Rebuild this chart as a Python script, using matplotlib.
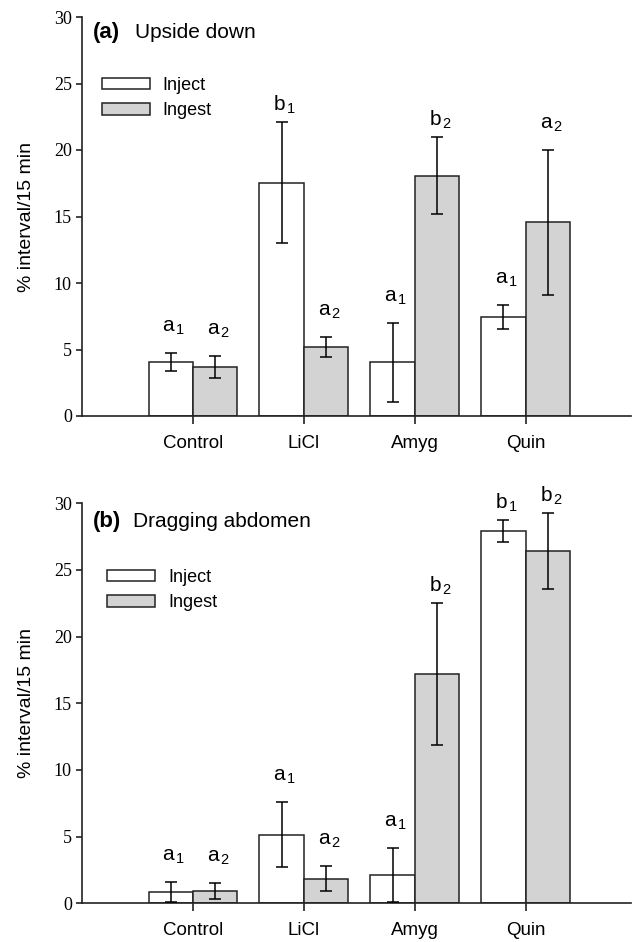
import matplotlib
matplotlib.use("Agg")
import matplotlib.pyplot as plt
import numpy as np

plt.rcParams['font.family'] = ['Liberation Sans', 'DejaVu Sans']
plt.rcParams['mathtext.fontset'] = 'custom'
plt.rcParams['mathtext.rm'] = 'Liberation Sans'
plt.rcParams['mathtext.it'] = 'Liberation Sans:italic'

categories = ['Control', 'LiCl', 'Amyg', 'Quin']
series_names = ['Inject', 'Ingest']

# Panel (a) Upside down
a_inject = [4.07, 17.55, 4.03, 7.45]
a_inject_err = [0.65, 4.55, 2.98, 0.90]
a_ingest = [3.65, 5.18, 18.07, 14.55]
a_ingest_err = [0.83, 0.78, 2.90, 5.47]
a_inject_labels = ['a1', 'b1', 'a1', 'a1']
a_ingest_labels = ['a2', 'a2', 'b2', 'a2']

# Panel (b) Dragging abdomen
b_inject = [0.83, 5.16, 2.14, 27.93]
b_inject_err = [0.76, 2.44, 2.04, 0.84]
b_ingest = [0.93, 1.84, 17.20, 26.45]
b_ingest_err = [0.58, 0.95, 5.30, 2.85]
b_inject_labels = ['a1', 'a1', 'a1', 'b1']
b_ingest_labels = ['a2', 'a2', 'b2', 'b2']

yticks = [0, 5, 10, 15, 20, 25, 30]

W, H = 637, 942
fig = plt.figure(figsize=(W / 100, H / 100), dpi=100)

colors = ['white', '#d3d3d3']
bw = 0.4
label_gap = {'a': 1.6, 'b': 0.85}


def fmt(lbl):
    return r'$\mathrm{%s}_{\,%s}$' % (lbl[0], lbl[1])


def panel(rect, inject, inject_err, ingest, ingest_err, inj_lbls, ing_lbls, tag, title,
          title_y, title_x2, leg_anchor):
    ax = fig.add_axes(rect)
    x = np.arange(1, len(categories) + 1)
    for i, (vals, errs, lbls) in enumerate([(inject, inject_err, inj_lbls), (ingest, ingest_err, ing_lbls)]):
        xpos = x + (i - 0.5) * bw
        ax.bar(xpos, vals, width=bw, color=colors[i], edgecolor='#222222', linewidth=1.1,
               label=series_names[i], zorder=2)
        ax.errorbar(xpos, vals, yerr=errs, fmt='none', ecolor='black', elinewidth=1.1,
                    capsize=4, capthick=1.1, zorder=3)
        for xp, v, e, l in zip(xpos, vals, errs, lbls):
            ax.text(xp + 0.03, v + e + label_gap[l[0]], fmt(l), ha='center', va='baseline',
                    fontsize=15)
    ax.set_xlim(0, 4.95)
    ax.set_ylim(0, 30)
    ax.set_xticks(x)
    ax.set_xticklabels(categories, fontsize=13.5)
    ax.set_yticks(yticks)
    ax.set_yticklabels([str(t) for t in yticks], fontfamily='Liberation Serif', fontsize=13)
    for s in ['top', 'right']:
        ax.spines[s].set_visible(False)
    for s in ['left', 'bottom']:
        ax.spines[s].set_linewidth(1.2)
        ax.spines[s].set_color('#222222')
    ax.tick_params(axis='y', direction='out', length=4.3, width=1.2, pad=3, color='#222222')
    ax.tick_params(axis='x', direction='out', length=5.5, width=1.2, pad=8, color='#222222')
    ax.set_ylabel('% interval/15 min', fontsize=14)
    ax.yaxis.set_label_coords(-0.085, 0.5)
    ax.text(0.02, title_y, tag, transform=ax.transAxes, fontsize=16, fontweight='bold',
            ha='left', va='baseline')
    ax.text(title_x2, title_y, title, transform=ax.transAxes, fontsize=15,
            ha='left', va='baseline')
    ax.legend(loc='upper left', bbox_to_anchor=leg_anchor, frameon=False, fontsize=13,
              handlelength=2.65, handleheight=0.6, labelspacing=0.47, handletextpad=0.72,
              borderaxespad=0, borderpad=0)
    return ax


ax1 = panel([82 / W, 1 - 416 / H, 549 / W, 399 / H], a_inject, a_inject_err, a_ingest, a_ingest_err,
            a_inject_labels, a_ingest_labels, '(a)', 'Upside down', 0.947, 0.0965, (0.036, 0.85))
ax2 = panel([82 / W, 1 - 903.3 / H, 549 / W, 400 / H], b_inject, b_inject_err, b_ingest, b_ingest_err,
            b_inject_labels, b_ingest_labels, '(b)', 'Dragging abdomen', 0.941, 0.093, (0.046, 0.836))

fig.savefig('out.png', dpi=100)
